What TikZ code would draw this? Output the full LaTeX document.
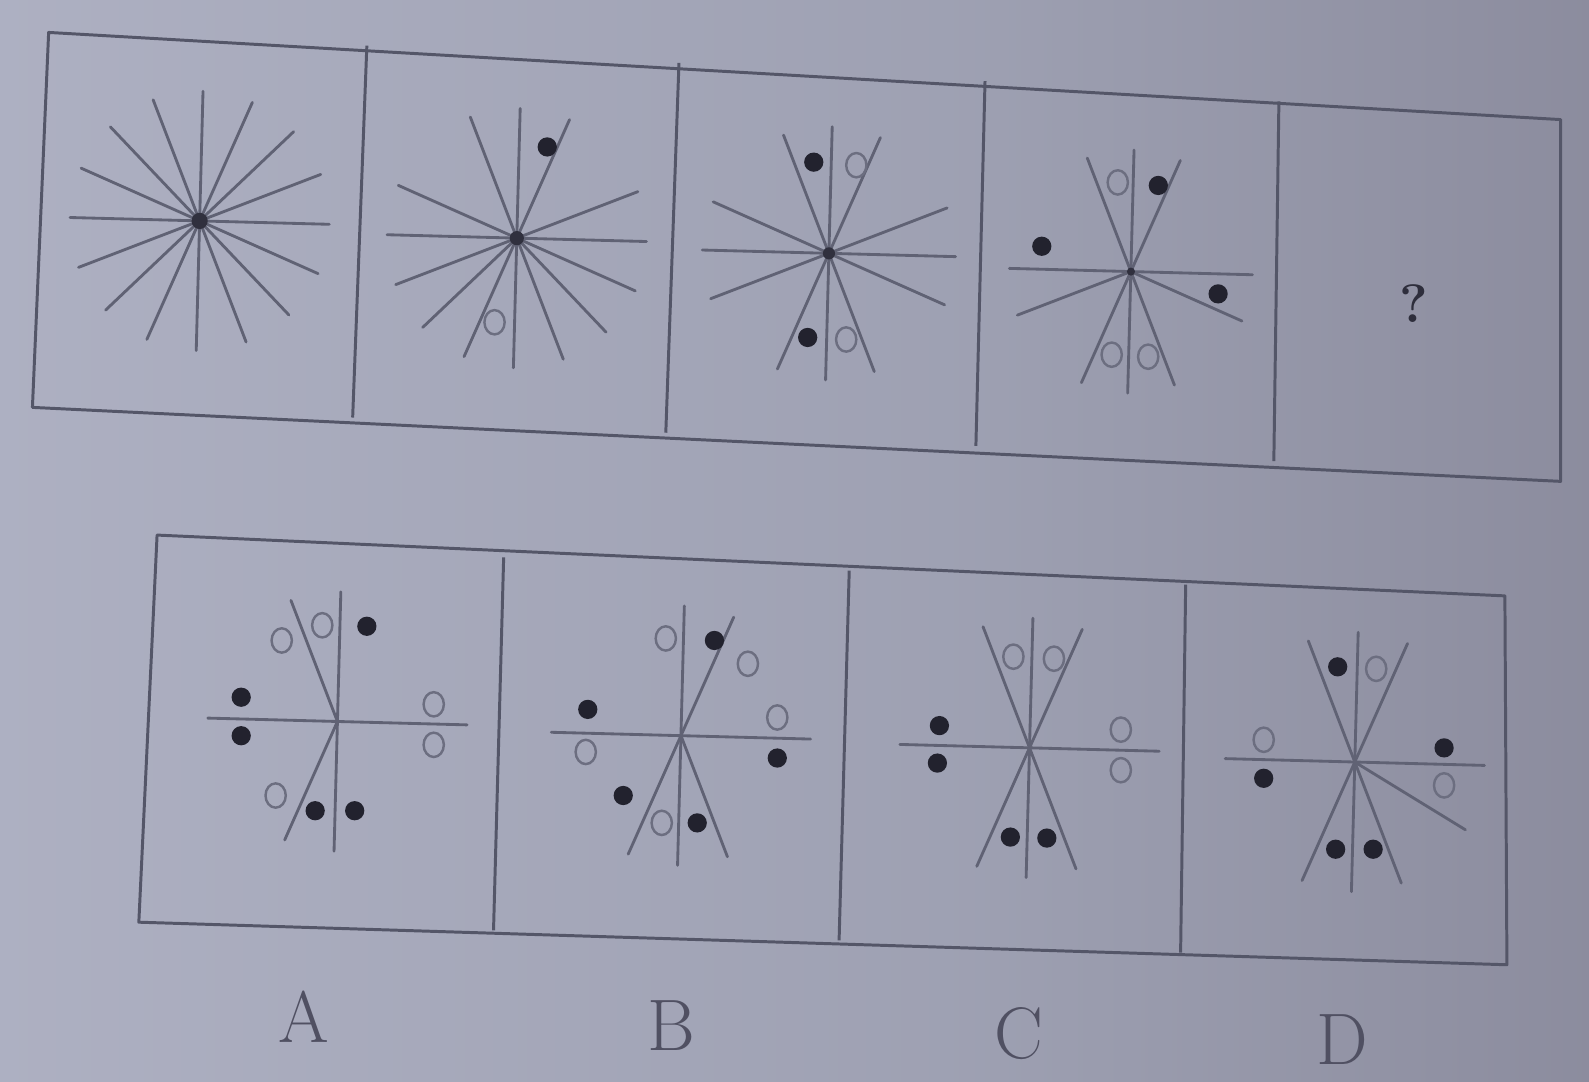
\documentclass[tikz,border=0pt]{standalone}
\usetikzlibrary{calc}
\pgfdeclarehorizontalshading{paper}{100bp}{rgb(0bp)=(0.72,0.73,0.79); rgb(25bp)=(0.68,0.69,0.76); rgb(55bp)=(0.62,0.63,0.70); rgb(80bp)=(0.53,0.53,0.60); rgb(92bp)=(0.45,0.45,0.52); rgb(100bp)=(0.35,0.35,0.41)}
\tikzset{every picture/.style={line width=0.75pt}}
\tikzset{
  ray/.style={draw={rgb, 255:red, 96; green, 98; blue, 116}, line width=2.1pt, line cap=round},
  frame/.style={draw={rgb, 255:red, 84; green, 86; blue, 104}, line width=2.2pt, line join=round},
  blackdot/.style={fill={rgb, 255:red, 34; green, 34; blue, 46}},
  whitedot/.style={draw={rgb, 255:red, 108; green, 110; blue, 128}, line width=1.8pt},
  hub/.style={fill={rgb, 255:red, 48; green, 48; blue, 62}},
  letter/.style={text={rgb, 255:red, 80; green, 80; blue, 98}, font=\fontsize{54}{58}\selectfont},
}

\begin{document}
\begin{tikzpicture}[x=0.75pt,y=0.75pt,yscale=-1,xscale=1]

%% ---------------- page ----------------
\useasboundingbox (0,0) rectangle (1568,1067);
\shade [shading=paper] (0,0) rectangle (1568,1067);

%% ---------------- question strip ----------------
\draw [frame] (48,32) -- (1540,118) -- (1540,475) -- (32,402) -- cycle ;
\draw [frame] (362,45) -- (348,412) ;
\draw [frame] (670,62) -- (657,427) ;
\draw [frame] (972,80) -- (963,440) ;
\draw [frame] (1262,100) -- (1257,455) ;

\coordinate (c1) at (197,218);
\coordinate (c2) at (510,235);
\coordinate (c3) at (818,250);
\coordinate (c4) at (1116,268);

\begin{scope}[rotate=1.5]
\foreach \a in {0,22.5,...,337.5} \draw [ray] (c1) -- ++(-\a:128) ;
\foreach \a in {0,22.5,67.5,90,112.5,157.5,180,202.5,225,247.5,270,292.5,315,337.5} \draw [ray] (c2) -- ++(-\a:128) ;
\foreach \a in {0,22.5,67.5,90,112.5,157.5,180,202.5,247.5,270,292.5,337.5} \draw [ray] (c3) -- ++(-\a:125) ;
\foreach \a in {0,67.5,90,112.5,180,202.5,247.5,270,292.5,337.5} \draw [ray] (c4) -- ++(-\a:120) ;
\end{scope}

\fill [hub] (c1) circle (8) ;
\fill [hub] (c2) circle (7) ;
\fill [hub] (c3) circle (6) ;
\fill [hub] (c4) circle (4) ;

\foreach \p in {(540,145),(803,160),(797,333),(1143,183),(1028,243),(1202,290)} \fill [blackdot] \p circle (9.5) ;
\foreach \p in {(488,318),(845,163),(835,335),(1103,180),(1097,350),(1133,352)} \draw [whitedot] \p circle [x radius=10, y radius=12] ;

\draw (1395,300) node [anchor=center, text={rgb, 255:red, 46; green, 46; blue, 60}, font=\fontsize{40}{44}\selectfont\bfseries] (qmark) {?};

%% ---------------- answer strip ----------------
\draw [frame] (155,528) -- (1485,588) -- (1487,952) -- (137,910) -- cycle ;
\draw [frame] (497,550) -- (487,918) ;
\draw [frame] (838,563) -- (828,928) ;
\draw [frame] (1170,577) -- (1165,940) ;

\coordinate (oA) at (333,712);
\coordinate (oB) at (672,726);
\coordinate (oC) at (1016,738);
\coordinate (oD) at (1337,752);

\begin{scope}[rotate=1.5]
\foreach \a in {0,90,112.5,180,247.5,270} \draw [ray] (oA) -- ++(-\a:128) ;
\foreach \a in {0,67.5,90,180,247.5,270,292.5} \draw [ray] (oB) -- ++(-\a:128) ;
\foreach \a in {0,67.5,90,112.5,180,247.5,270,292.5} \draw [ray] (oC) -- ++(-\a:128) ;
\foreach \a in {0,67.5,90,112.5,180,247.5,270,292.5,330} \draw [ray] (oD) -- ++(-\a:128) ;
\end{scope}

%% A
\foreach \p in {(362,618),(238,688),(238,726),(311,800),(350,800)} \fill [blackdot] \p circle (9.5) ;
\foreach \p in {(278,632),(318,617),(428,695),(428,735),(272,785)} \draw [whitedot] \p circle [x radius=10, y radius=12] ;
%% B
\foreach \p in {(705,632),(580,700),(767,748),(615,785),(688,812)} \fill [blackdot] \p circle (9.5) ;
\foreach \p in {(657,630),(738,655),(578,742),(767,708),(653,812)} \draw [whitedot] \p circle [x radius=10, y radius=12] ;
%% C
\foreach \p in {(927,716),(925,753),(997,826),(1033,827)} \fill [blackdot] \p circle (9.5) ;
\foreach \p in {(1000,648),(1040,650),(1106,720),(1106,760)} \draw [whitedot] \p circle [x radius=10, y radius=12] ;
%% D
\foreach \p in {(1320,658),(1247,768),(1425,738),(1318,838),(1355,838)} \fill [blackdot] \p circle (9.5) ;
\foreach \p in {(1358,660),(1247,730),(1425,775)} \draw [whitedot] \p circle [x radius=10, y radius=12] ;

%% ---------------- text ----------------
\draw (300,1003) node [anchor=center, letter] (labA) {A};
\draw (662,1012) node [anchor=center, letter] (labB) {B};
\draw (1005,1020) node [anchor=center, letter] (labC) {C};
\draw (1325,1026) node [anchor=center, letter] (labD) {D};

\end{tikzpicture}
\end{document}
